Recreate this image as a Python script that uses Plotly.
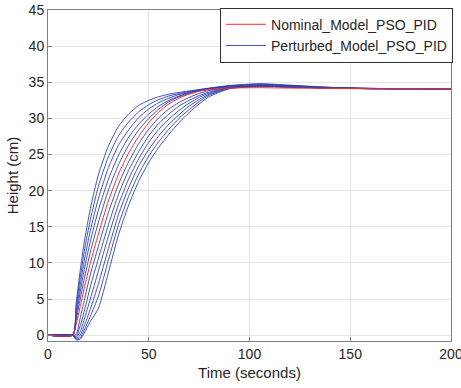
import plotly.graph_objects as go

t = [0, 12.3, 14, 16, 18, 21, 25, 30, 35, 40, 45, 50, 55, 60, 65, 70, 75, 80, 90, 105, 120, 140, 160, 200]

nominal = [0, 0, 1.5, 4.0, 6.5, 10.0, 14.0, 18.6, 22.3, 25.2, 27.5, 29.4, 30.9, 32.0, 32.8, 33.35, 33.75, 34.0, 34.2, 34.25, 34.2, 34.15, 34.1, 34.1]

perturbed = [
    [0, 0, 4.5, 9.0, 12.9, 17.5, 22.2, 26.2, 28.9, 30.6, 31.8, 32.5, 33.0, 33.35, 33.6, 33.8, 34.0, 34.2, 34.55, 34.8, 34.6, 34.3, 34.15, 34.1],
    [0, 0, 3.9, 8.0, 11.6, 16.0, 20.6, 24.7, 27.6, 29.5, 30.9, 31.9, 32.6, 33.1, 33.45, 33.7, 33.95, 34.15, 34.5, 34.75, 34.55, 34.3, 34.15, 34.1],
    [0, 0, 3.3, 7.0, 10.3, 14.5, 18.9, 23.2, 26.3, 28.4, 30.1, 31.3, 32.2, 32.8, 33.3, 33.6, 33.9, 34.1, 34.45, 34.7, 34.5, 34.25, 34.15, 34.1],
    [0, 0, 2.7, 6.0, 9.1, 13.0, 17.3, 21.6, 24.9, 27.4, 29.2, 30.6, 31.7, 32.5, 33.1, 33.55, 33.85, 34.1, 34.4, 34.6, 34.45, 34.25, 34.15, 34.1],
    [0, 0, 2.1, 5.0, 7.8, 11.5, 15.6, 20.1, 23.6, 26.3, 28.4, 30.0, 31.3, 32.3, 33.0, 33.45, 33.8, 34.05, 34.3, 34.5, 34.4, 34.2, 34.12, 34.1],
    [0, 0, 0.1, 2.4, 4.8, 8.4, 12.3, 17.0, 20.9, 24.0, 26.5, 28.5, 30.1, 31.3, 32.2, 32.9, 33.45, 33.85, 34.3, 34.45, 34.35, 34.2, 34.12, 34.1],
    [0, 0, -0.15, 1.3, 3.3, 6.7, 10.6, 15.3, 19.5, 22.8, 25.4, 27.6, 29.3, 30.6, 31.7, 32.5, 33.15, 33.65, 34.3, 34.45, 34.35, 34.2, 34.12, 34.1],
    [0, 0, -0.3, 0.5, 2.2, 5.0, 8.9, 13.7, 18.1, 21.6, 24.4, 26.7, 28.5, 29.9, 31.1, 32.1, 32.9, 33.5, 34.25, 34.45, 34.35, 34.2, 34.12, 34.1],
    [0, 0, -0.45, 0.0, 1.3, 3.6, 7.1, 12.0, 16.7, 20.4, 23.4, 25.7, 27.6, 29.2, 30.5, 31.7, 32.6, 33.35, 34.2, 34.45, 34.35, 34.2, 34.12, 34.1],
    [0, 0, -0.55, -0.35, 0.7, 2.6, 5.4, 10.4, 15.3, 19.2, 22.3, 24.8, 26.8, 28.5, 30.0, 31.2, 32.3, 33.2, 34.15, 34.45, 34.35, 34.2, 34.12, 34.1],
    [0, 0, -0.65, -0.55, 0.3, 1.9, 3.7, 8.7, 13.9, 18.0, 21.3, 23.9, 26.0, 27.8, 29.4, 30.8, 32.0, 33.0, 34.1, 34.45, 34.35, 34.2, 34.12, 34.1],
]

x_ticks = [0, 50, 100, 150, 200]
y_ticks = [0, 5, 10, 15, 20, 25, 30, 35, 40, 45]

BLUE = "#2f3fb0"
RED = "#ff2a2a"
FONT = "Liberation Sans, Arial, sans-serif"

fig = go.Figure()
for i, h in enumerate(perturbed):
    fig.add_trace(go.Scatter(
        x=t, y=h, mode="lines", name="Perturbed_Model_PSO_PID",
        line=dict(color=BLUE, width=0.9, shape="spline", smoothing=0.6),
        showlegend=(i == 0), legendrank=2,
    ))
fig.add_trace(go.Scatter(
    x=t, y=nominal, mode="lines", name="Nominal_Model_PSO_PID",
    line=dict(color=RED, width=1, shape="spline", smoothing=0.6),
    legendrank=1,
))

axis_common = dict(
    showline=True, linecolor="#808080", linewidth=1, mirror=True,
    ticks="inside", ticklen=4, tickcolor="#808080",
    showgrid=True, gridcolor="#e4e4e4", gridwidth=1, zeroline=False,
    ticklabeloverflow="allow", automargin=False,
    tickfont=dict(family=FONT, size=14, color="#262626"),
)

fig.update_layout(
    width=461, height=388,
    margin=dict(l=48, r=8, t=10, b=47),
    paper_bgcolor="white", plot_bgcolor="white",
    font=dict(family=FONT, color="#262626"),
    xaxis=dict(range=[0, 200], tickvals=x_ticks,
               title=dict(text="Time (seconds)", font=dict(size=15), standoff=6),
               **axis_common),
    yaxis=dict(range=[-0.8, 45], tickvals=y_ticks,
               title=dict(text="Height (cm)", font=dict(size=15), standoff=6),
               **axis_common),
    legend=dict(x=1.005, xanchor="right", y=1.007, yanchor="top",
                bgcolor="white", bordercolor="#333333", borderwidth=1,
                font=dict(family=FONT, size=14, color="#262626"), tracegroupgap=0,
                itemwidth=40),
    showlegend=True,
)

fig.write_html("out.html")
